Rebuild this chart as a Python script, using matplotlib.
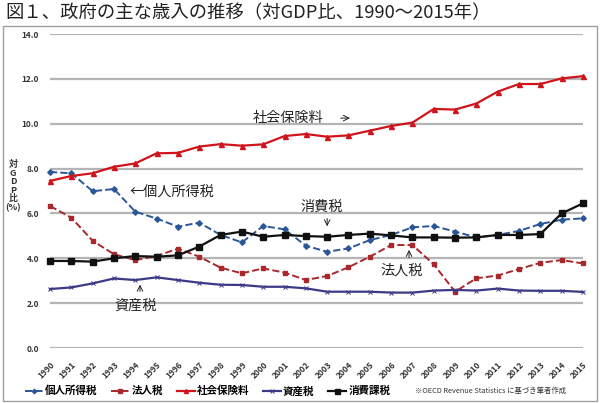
import numpy as np
import matplotlib
matplotlib.use('Agg')
import matplotlib.pyplot as plt
from matplotlib.patches import Rectangle

plt.rcParams['font.family'] = ['Noto Sans CJK JP', 'DejaVu Sans']

years = [str(y) for y in range(1990, 2016)]

# 対GDP比 (%)
personal_income = [7.85, 7.79, 6.99, 7.09, 6.08, 5.77, 5.41, 5.59, 5.04, 4.71,
                   5.44, 5.29, 4.56, 4.29, 4.44, 4.81, 5.04, 5.38, 5.44, 5.19,
                   4.93, 5.04, 5.22, 5.53, 5.72, 5.78]
corporate = [6.33, 5.81, 4.78, 4.18, 3.92, 4.10, 4.43, 4.07, 3.58, 3.33,
             3.55, 3.36, 3.03, 3.21, 3.60, 4.07, 4.59, 4.59, 3.73, 2.51,
             3.11, 3.23, 3.52, 3.80, 3.92, 3.77]
social_security = [7.45, 7.67, 7.79, 8.08, 8.23, 8.68, 8.70, 8.98, 9.09, 9.02,
                   9.08, 9.45, 9.54, 9.42, 9.48, 9.69, 9.90, 10.05, 10.66, 10.63,
                   10.90, 11.43, 11.77, 11.77, 12.02, 12.12]
property_tax = [2.63, 2.70, 2.88, 3.10, 3.03, 3.15, 3.03, 2.91, 2.82, 2.81,
                2.73, 2.73, 2.66, 2.51, 2.51, 2.51, 2.47, 2.47, 2.56, 2.59,
                2.56, 2.65, 2.56, 2.55, 2.55, 2.50]
consumption = [3.88, 3.88, 3.85, 4.00, 4.10, 4.07, 4.13, 4.52, 5.04, 5.19,
               4.96, 5.04, 4.99, 4.96, 5.04, 5.10, 5.02, 4.93, 4.93, 4.92,
               4.93, 5.04, 5.04, 5.08, 6.00, 6.45]

y_ticks = [0, 2, 4, 6, 8, 10, 12, 14]

fig = plt.figure(figsize=(6.0, 4.03), dpi=100)

# outer frame
fig.patches.append(Rectangle((3 / 600, 2 / 403), 594 / 600, 375 / 403,
                             transform=fig.transFigure, fill=False,
                             edgecolor='#a0a0a0', linewidth=1.0))

fig.text(5 / 600, 1 - 13 / 403, '図１、政府の主な歳入の推移（対GDP比、1990～2015年）',
         fontsize=13.2, va='center', ha='left', color='#222222')

ax = fig.add_axes([50 / 600, 55 / 403, 533 / 600, 314 / 403])
x = np.arange(len(years))

common = dict(clip_on=False, zorder=3)
ax.plot(x, personal_income, linestyle='--', color='#2b5797', marker='D',
        markersize=2.8, linewidth=1.4, label='個人所得税', **common)
ax.plot(x, corporate, linestyle='--', color='#a8282c', marker='s',
        markersize=3.2, linewidth=1.4, label='法人税', **common)
ax.plot(x, social_security, linestyle='-', color='#d0141c', marker='^',
        markersize=3.6, linewidth=1.6, label='社会保険料', **common)
ax.plot(x, property_tax, linestyle='-', color='#3c3a86', marker='x',
        markersize=2.8, markeredgewidth=0.7, linewidth=1.6, label='資産税', **common)
ax.plot(x, consumption, linestyle='-', color='#111111', marker='s',
        markersize=4.5, linewidth=1.6, label='消費課税', clip_on=False, zorder=4)

ax.set_xlim(0, 25)
ax.set_ylim(0, 14)
ax.set_yticks(y_ticks)
ax.set_yticklabels([f'{v:.1f}' for v in y_ticks], fontsize=6, fontweight='bold',
                   color='#333333')
ax.set_xticks(x)
ax.set_xticklabels(years, rotation=45, ha='right', va='top', fontsize=6,
                   fontweight='bold', color='#333333', rotation_mode='anchor')
ax.tick_params(axis='y', length=0, pad=8)
ax.tick_params(axis='x', length=0, pad=9)
for s in ax.spines.values():
    s.set_visible(False)
ax.grid(axis='y', color='#b4b4b4', linewidth=1.6)
ax.set_axisbelow(True)

# vertical y label, stacked characters
fig.text(13 / 600, 1 - 186 / 403, '対\nG\nD\nP\n比\n(%)', fontsize=6.5,
         fontweight='bold', ha='center', va='center', linespacing=0.95,
         color='#333333')

# annotations
ax.text(3.75, 6.98, '←個人所得税', fontsize=10.2, va='center', ha='left', color='#222222')
ax.text(9.5, 10.25, '社会保険料', fontsize=10.2, va='center', ha='left', color='#222222')
ax.annotate('', xy=(14.2, 10.25), xytext=(13.5, 10.25),
            arrowprops=dict(arrowstyle='->', color='#222222', lw=0.7))
ax.text(12.76, 6.3, '消費税', fontsize=10.2, va='center', ha='center', color='#222222')
ax.annotate('', xy=(13.0, 5.3), xytext=(13.0, 5.9),
            arrowprops=dict(arrowstyle='->', color='#222222', lw=0.7))
ax.text(16.5, 3.45, '法人税', fontsize=10.2, va='center', ha='center', color='#222222')
ax.annotate('', xy=(16.84, 4.5), xytext=(16.84, 3.9),
            arrowprops=dict(arrowstyle='->', color='#222222', lw=0.7))
ax.text(4.0, 1.87, '資産税', fontsize=10.2, va='center', ha='center', color='#222222')
ax.annotate('', xy=(4.22, 2.95), xytext=(4.22, 2.4),
            arrowprops=dict(arrowstyle='->', color='#222222', lw=0.7))

handles, labels = ax.get_legend_handles_labels()
fig.legend(handles, labels, loc='center left', bbox_to_anchor=(25 / 600, 1 - 391 / 403),
           ncol=5, frameon=False, handlelength=1.7, handletextpad=0.2,
           columnspacing=1.3, borderpad=0, borderaxespad=0, markerscale=0.8,
           prop={'weight': 'bold', 'size': 7.6})

fig.text(415 / 600, 1 - 391 / 403, '※OECD Revenue Statistics に基づき筆者作成',
         fontsize=5.3, va='center', ha='left', color='#333333')

fig.savefig('out.png', dpi=100)
